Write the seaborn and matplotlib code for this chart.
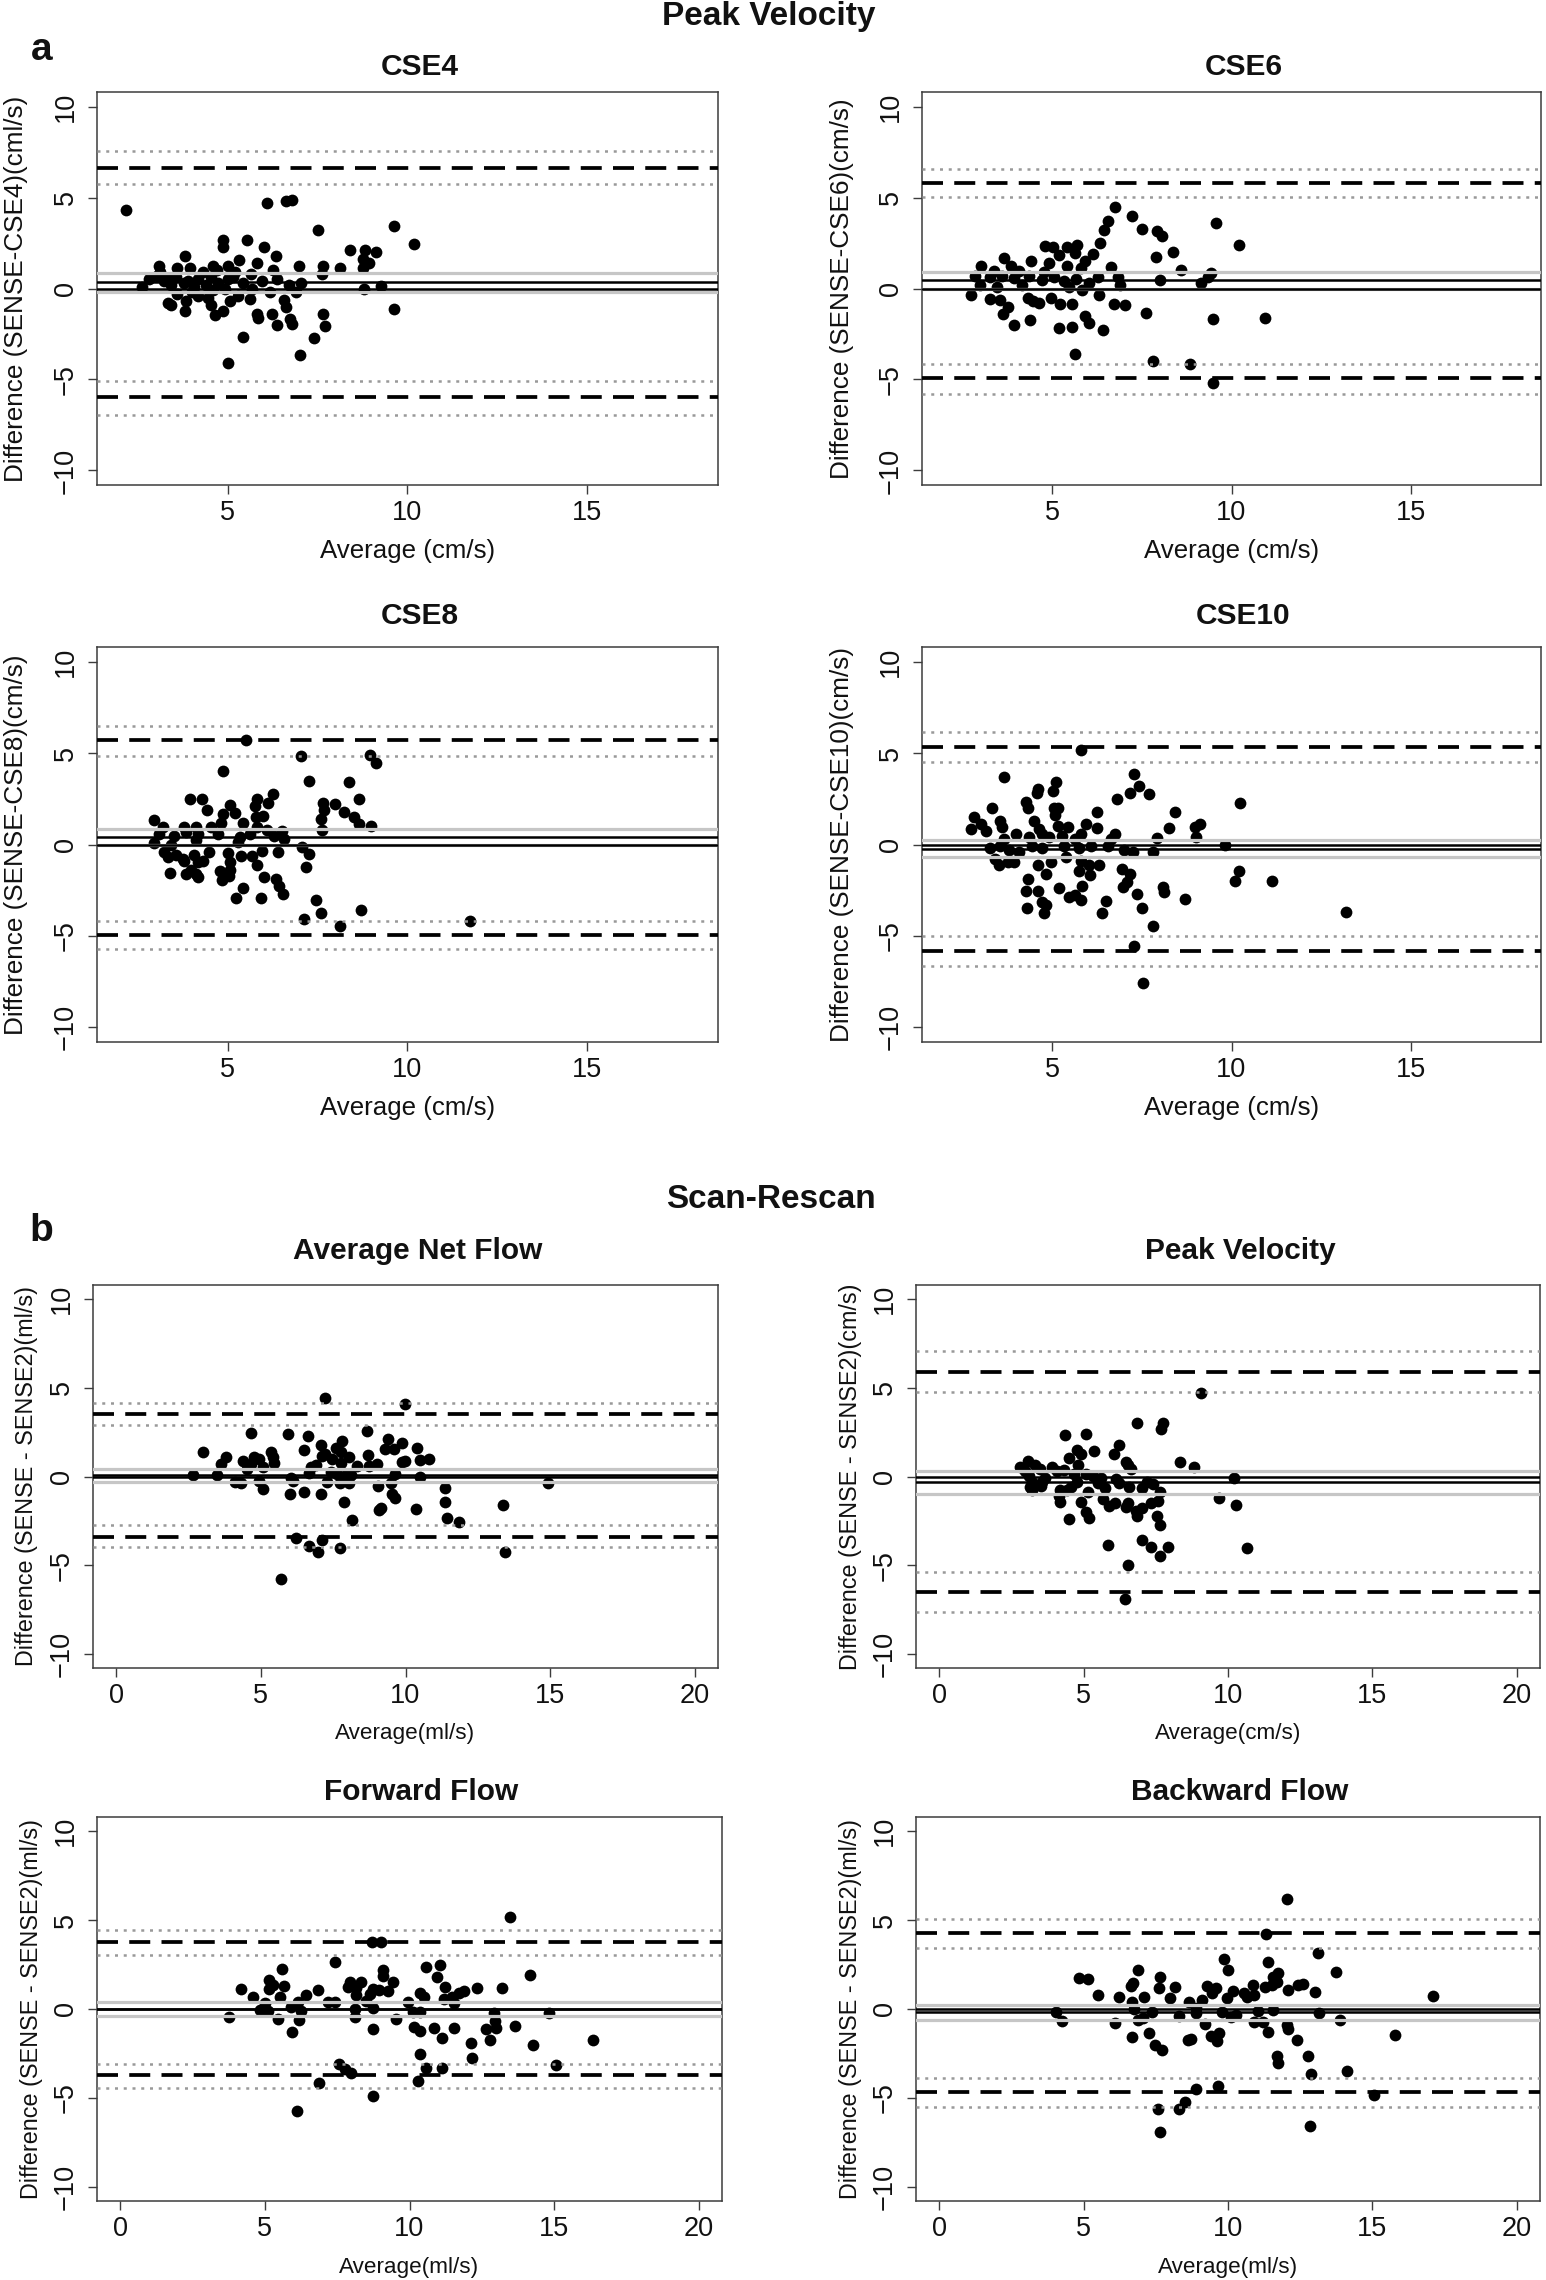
import matplotlib
matplotlib.use("Agg")
import matplotlib.pyplot as plt
import seaborn as sns
import pandas as pd
from matplotlib import font_manager as fm

# ---------------------------------------------------------------- data
# Panel a: Peak Velocity (SENSE vs CSE)
cse4_avg = [2.17, 6.09, 6.63, 6.80, 7.52, 9.63, 10.18, 8.41, 8.81, 9.11,
            4.86, 5.54, 6.02, 6.34, 4.86, 3.81, 5.31, 6.98, 7.66, 8.11,
            8.75, 8.92, 8.75, 3.09, 3.60, 3.95, 4.59, 5.00, 5.82, 6.25,
            5.65, 7.63, 2.62, 2.82, 3.02, 3.23, 3.43, 3.57, 3.77, 4.05,
            4.18, 4.39, 4.52, 4.73, 4.93, 5.14, 5.41, 5.68, 5.95, 6.16,
            6.36, 6.70, 6.91, 7.04, 9.26, 8.79, 3.34, 3.43, 3.84, 3.81,
            4.16, 4.46, 4.52, 4.63, 4.86, 5.07, 5.27, 5.61, 5.82, 5.84,
            6.23, 6.36, 6.57, 6.63, 6.74, 6.80, 7.66, 7.70, 9.63, 5.41,
            7.41, 7.02, 5.00, 3.10, 3.30, 3.90, 4.30, 4.70, 5.20, 3.60,
            4.00, 4.60, 5.00]
cse4_diff = [4.30, 4.71, 4.81, 4.87, 3.20, 3.43, 2.43, 2.13, 2.13, 2.03,
             2.68, 2.64, 2.27, 1.76, 2.27, 1.78, 1.56, 1.26, 1.26, 1.12,
             1.62, 1.42, 1.12, 1.26, 1.12, 1.12, 1.26, 1.26, 1.38, 1.01,
             0.81, 0.81, 0.10, 0.51, 0.71, 0.41, 0.20, 0.61, 0.30, 0.10,
             0.51, 0.20, 0.61, 0.30, 0.00, 0.61, 0.30, 0.00, 0.41, -0.20,
             0.51, 0.20, -0.20, 0.30, 0.14, 0.00, -0.81, -0.91, -0.71, -1.22,
             -0.41, -0.51, -0.91, -1.46, -1.22, -0.71, -0.41, -0.57, -1.38, -1.62,
             -1.38, -1.99, -0.61, -1.01, -1.66, -1.97, -1.38, -2.07, -1.12, -2.68,
             -2.74, -3.65, -4.12, 0.90, 0.60, 0.40, 0.90, 1.00, 0.90, -0.30,
             -0.20, -0.10, 0.50]

cse6_avg = [6.76, 7.22, 6.56, 6.45, 9.56, 7.49, 7.91, 8.07, 6.32, 10.21,
            4.79, 5.01, 5.41, 5.69, 6.14, 8.37, 7.88, 5.62, 5.18, 3.66,
            4.39, 5.90, 4.90, 5.41, 3.84, 3.02, 6.63, 5.80, 8.60, 3.36,
            4.08, 4.77, 9.42, 2.84, 3.25, 3.60, 3.94, 4.35, 4.70, 5.04,
            5.32, 5.66, 6.01, 6.28, 6.83, 8.00, 9.15, 9.34, 2.98, 3.46,
            4.15, 5.45, 6.90, 2.73, 3.25, 3.53, 3.76, 4.31, 4.45, 4.63,
            4.97, 5.21, 5.55, 5.83, 6.31, 6.72, 7.04, 3.62, 5.91, 7.62,
            9.49, 10.94, 3.94, 4.38, 6.01, 5.18, 5.56, 6.42, 5.62, 7.80,
            8.83, 9.48]
cse6_diff = [4.50, 4.00, 3.71, 3.20, 3.59, 3.25, 3.14, 2.90, 2.49, 2.37,
             2.33, 2.27, 2.27, 2.39, 1.87, 1.99, 1.72, 1.93, 1.83, 1.68,
             1.52, 1.52, 1.38, 1.26, 1.26, 1.26, 1.18, 1.12, 1.01, 0.97,
             0.97, 0.91, 0.87, 0.71, 0.61, 0.71, 0.57, 0.71, 0.47, 0.65,
             0.41, 0.51, 0.30, 0.65, 0.61, 0.47, 0.30, 0.61, 0.20, 0.10,
             0.20, 0.10, 0.20, -0.37, -0.57, -0.65, -1.01, -0.51, -0.71, -0.81,
             -0.51, -0.85, -0.87, -0.10, -0.34, -0.87, -0.91, -1.42, -1.52, -1.32,
             -1.66, -1.62, -1.99, -1.72, -1.89, -2.19, -2.13, -2.29, -3.61, -4.00,
             -4.16, -5.17]

cse8_avg = [5.50, 7.04, 8.95, 9.11, 4.86, 7.25, 8.38, 3.94, 4.28, 6.25,
            5.82, 8.64, 6.12, 7.66, 7.97, 5.07, 5.75, 4.43, 7.68, 8.23,
            5.20, 4.86, 5.99, 5.79, 8.51, 2.96, 7.59, 5.41, 8.64, 8.98,
            3.21, 3.77, 4.11, 4.52, 4.80, 5.82, 6.09, 6.50, 7.62, 3.09,
            3.50, 3.84, 4.18, 4.73, 5.34, 5.61, 6.29, 6.57, 2.96, 3.43,
            4.11, 5.27, 7.07, 3.23, 3.57, 3.34, 3.75, 4.05, 4.48, 5.00,
            5.37, 5.68, 5.95, 6.39, 7.25, 4.16, 3.77, 4.32, 5.07, 5.82,
            7.18, 3.39, 3.85, 4.11, 3.98, 4.18, 4.77, 5.07, 4.84, 5.03,
            6.02, 6.34, 6.43, 6.53, 5.41, 5.23, 5.93, 7.45, 7.59, 8.72,
            7.11, 8.13, 11.74]
cse8_diff = [5.73, 4.84, 4.90, 4.47, 4.02, 3.49, 3.43, 2.51, 2.51, 2.75,
             2.51, 2.51, 2.25, 2.25, 2.20, 2.16, 2.12, 1.86, 1.90, 1.80,
             1.73, 1.67, 1.57, 1.53, 1.53, 1.33, 1.37, 1.18, 1.12, 1.02,
             0.98, 0.98, 0.98, 0.94, 1.18, 0.98, 0.78, 0.75, 0.82, 0.55,
             0.49, 0.69, 0.59, 0.55, 0.43, 0.59, 0.49, 0.29, 0.10, 0.00,
             0.24, 0.16, -0.16, -0.39, -0.55, -0.69, -0.78, -0.59, -0.43, -0.49,
             -0.63, -0.63, -0.35, -0.43, -0.53, -0.98, -0.88, -0.88, -0.98, -1.12,
             -1.22, -1.57, -1.61, -1.61, -1.37, -1.80, -1.47, -1.37, -1.96, -1.73,
             -1.80, -1.86, -2.25, -2.71, -2.39, -2.90, -2.90, -3.04, -3.73, -3.59,
             -4.08, -4.47, -4.18]

cse10_avg = [5.80, 3.66, 7.27, 7.41, 7.18, 7.69, 5.11, 5.01, 4.59, 4.56,
             6.79, 10.23, 4.26, 4.33, 3.32, 5.04, 5.15, 8.42, 6.25, 5.07,
             2.81, 3.55, 4.48, 3.01, 5.94, 9.12, 5.15, 5.43, 3.60, 8.25,
             8.97, 2.73, 3.15, 4.63, 6.25, 4.70, 3.98, 5.28, 5.80, 6.76,
             9.01, 7.91, 4.35, 4.90, 3.66, 5.62, 6.63, 3.25, 3.53, 3.80,
             4.08, 4.42, 4.70, 5.32, 5.73, 6.07, 6.56, 7.00, 7.25, 9.83,
             7.80, 3.39, 3.50, 3.77, 3.94, 5.39, 5.80, 4.60, 4.81, 4.97,
             6.01, 6.31, 5.73, 6.05, 6.94, 7.18, 7.08, 6.97, 4.31, 10.10,
             10.21, 11.14, 5.84, 8.10, 8.11, 4.26, 4.59, 5.18, 7.36, 5.45,
             5.62, 5.80, 8.69, 6.49, 4.72, 4.83, 4.28, 4.77, 6.38, 7.49,
             7.80, 13.20, 7.27, 7.52]
cse10_diff = [5.16, 3.69, 3.86, 3.18, 2.84, 2.78, 3.43, 2.94, 3.04, 2.80,
              2.51, 2.29, 2.31, 2.02, 2.00, 2.02, 2.02, 1.80, 1.80, 1.63,
              1.51, 1.31, 1.31, 1.12, 1.14, 1.12, 1.02, 0.98, 0.98, 0.92,
              0.98, 0.84, 0.73, 0.84, 0.88, 0.55, 0.55, 0.49, 0.55, 0.55,
              0.43, 0.35, 0.39, 0.39, 0.29, 0.29, 0.29, -0.20, -0.10, -0.29,
              -0.39, -0.10, -0.20, -0.10, -0.20, -0.10, -0.10, -0.29, -0.39, -0.04,
              -0.43, -0.78, -1.14, -0.98, -0.98, -0.69, -0.88, -1.12, -1.61, -0.98,
              -1.12, -1.12, -1.47, -1.67, -1.33, -1.61, -2.06, -2.35, -1.86, -2.00,
              -1.43, -2.02, -2.25, -2.31, -2.59, -2.55, -2.55, -2.39, -2.69, -2.88,
              -2.78, -3.04, -2.98, -3.08, -3.14, -3.33, -3.49, -3.73, -3.73, -3.49,
              -4.47, -3.69, -5.53, -7.59]

# Panel b: Scan-Rescan (SENSE vs SENSE2)
net_avg = [7.21, 9.97, 8.67, 4.66, 5.94, 6.62, 9.40, 7.81, 9.88, 7.07,
           7.59, 10.39, 9.30, 9.59, 6.48, 7.76, 2.99, 5.34, 7.21, 7.13,
           8.69, 5.41, 4.78, 3.81, 8.06, 10.82, 10.51, 4.92, 9.97, 9.88,
           7.45, 4.40, 5.46, 7.76, 3.64, 4.66, 9.03, 6.90, 8.33, 8.74,
           5.09, 6.73, 4.52, 6.65, 7.41, 7.62, 9.63, 2.67, 3.50, 6.05,
           7.93, 8.10, 10.51, 4.10, 4.32, 4.95, 6.10, 7.30, 7.72, 8.06,
           9.51, 14.93, 5.09, 9.06, 11.38, 6.00, 6.48, 7.07, 9.54, 9.63,
           7.89, 11.38, 13.37, 9.15, 9.08, 10.36, 8.15, 11.45, 11.84, 6.22,
           7.13, 6.65, 7.72, 6.96, 13.45, 5.68]
net_diff = [4.42, 4.07, 2.58, 2.44, 2.38, 2.30, 2.14, 2.03, 1.89, 1.77,
            1.63, 1.63, 1.57, 1.57, 1.49, 1.36, 1.36, 1.36, 1.28, 1.16,
            1.22, 1.12, 1.12, 1.08, 1.08, 0.96, 0.92, 0.96, 0.87, 0.81,
            0.96, 0.85, 0.75, 0.75, 0.71, 0.71, 0.71, 0.67, 0.61, 0.61,
            0.55, 0.51, 0.41, 0.20, 0.26, 0.14, 0.14, 0.10, 0.06, -0.10,
            0.10, 0.06, 0.00, -0.31, -0.35, -0.26, -0.26, -0.31, -0.35, -0.35,
            -0.35, -0.35, -0.71, -0.55, -0.67, -0.96, -0.87, -0.96, -0.96, -1.22,
            -1.42, -1.42, -1.63, -1.77, -1.89, -1.83, -2.44, -2.34, -2.58, -3.46,
            -3.56, -3.93, -4.01, -4.27, -4.27, -5.80]

pv_avg = [9.07, 6.86, 7.74, 7.69, 4.37, 5.07, 6.21, 4.77, 5.36, 4.90,
          6.04, 4.48, 6.47, 8.34, 4.82, 6.55, 8.82, 3.06, 2.81, 3.32,
          3.91, 6.64, 2.98, 3.49, 4.09, 4.34, 4.68, 5.07, 3.10, 3.66,
          5.33, 5.62, 6.13, 10.21, 7.18, 3.23, 3.57, 4.77, 5.50, 6.21,
          7.40, 3.15, 3.54, 4.56, 5.74, 6.59, 7.01, 3.23, 4.17, 4.43,
          5.16, 7.66, 4.14, 4.17, 4.90, 5.67, 9.70, 7.57, 7.35, 6.09,
          5.87, 6.55, 6.47, 10.26, 7.03, 6.81, 5.07, 6.86, 5.19, 4.51,
          7.54, 7.63, 7.03, 5.84, 7.35, 7.91, 10.67, 7.63, 6.55, 6.42]
pv_diff = [4.70, 3.03, 3.01, 2.67, 2.36, 2.40, 1.75, 1.49, 1.41, 1.28,
           1.28, 1.04, 0.84, 0.79, 0.67, 0.63, 0.53, 0.88, 0.53, 0.63,
           0.53, 0.43, 0.33, 0.43, 0.33, 0.39, 0.12, 0.12, 0.02, -0.08,
           0.02, -0.08, -0.14, -0.08, -0.29, -0.29, -0.29, -0.29, -0.35, -0.35,
           -0.43, -0.59, -0.55, -0.59, -0.63, -0.59, -0.63, -0.75, -0.75, -0.75,
           -0.90, -0.90, -1.10, -1.41, -1.41, -1.26, -1.20, -1.36, -1.47, -1.47,
           -1.65, -1.51, -1.71, -1.61, -1.77, -1.96, -1.98, -2.22, -2.32, -2.38,
           -2.22, -2.73, -3.60, -3.89, -3.99, -3.95, -4.01, -4.50, -5.01, -6.90]

fwd_avg = [13.49, 8.70, 9.01, 7.43, 11.05, 10.57, 5.61, 9.07, 14.17, 10.96,
           9.09, 5.13, 7.94, 8.31, 9.43, 5.27, 5.65, 7.88, 8.14, 11.22,
           12.32, 13.20, 4.16, 5.13, 6.83, 8.74, 8.95, 9.26, 11.88, 11.71,
           6.41, 8.14, 4.59, 5.51, 8.62, 10.37, 10.49, 11.47, 8.50, 7.17,
           7.43, 11.19, 11.55, 9.94, 5.01, 6.15, 5.90, 8.75, 4.84, 8.11,
           10.11, 10.37, 12.91, 14.82, 5.10, 6.24, 3.77, 5.44, 8.11, 9.52,
           6.19, 12.95, 13.66, 10.14, 10.86, 11.54, 12.64, 12.98, 8.75, 10.35,
           5.95, 11.11, 16.35, 12.78, 12.13, 14.26, 10.37, 12.15, 7.56, 15.07,
           7.76, 7.99, 10.57, 11.13, 10.31, 6.86, 8.75, 6.10]
fwd_diff = [5.20, 3.78, 3.78, 2.65, 2.45, 2.35, 2.27, 2.22, 1.92, 1.82,
            1.84, 1.61, 1.51, 1.53, 1.51, 1.37, 1.27, 1.22, 1.16, 1.22,
            1.16, 1.20, 1.10, 1.12, 1.06, 1.10, 1.06, 1.02, 1.02, 0.90,
            0.80, 0.76, 0.65, 0.65, 0.86, 0.90, 0.65, 0.69, 0.45, 0.41,
            0.41, 0.55, 0.35, 0.41, 0.35, 0.39, 0.14, 0.04, -0.06, -0.02,
            -0.16, -0.16, -0.20, -0.20, -0.12, -0.12, -0.47, -0.57, -0.47, -0.57,
            -0.61, -0.67, -0.94, -1.04, -1.08, -1.08, -1.12, -1.08, -1.14, -1.24,
            -1.29, -1.63, -1.73, -1.76, -1.90, -2.00, -2.51, -2.76, -3.08, -3.16,
            -3.39, -3.59, -3.33, -3.33, -4.04, -4.18, -4.90, -5.71]

bwd_avg = [12.05, 11.32, 13.11, 9.87, 11.40, 6.89, 10.00, 13.75, 11.74, 4.85,
           5.14, 7.66, 11.57, 11.69, 11.52, 6.72, 6.64, 12.43, 12.60, 9.28,
           9.57, 10.86, 11.29, 8.17, 7.61, 12.09, 10.16, 9.45, 13.02, 10.55,
           10.67, 10.89, 17.11, 5.50, 6.21, 7.10, 8.00, 9.96, 9.11, 6.69,
           8.65, 8.90, 6.76, 11.57, 4.03, 7.37, 11.03, 9.79, 10.26, 13.14,
           8.90, 10.10, 8.29, 7.06, 6.89, 4.26, 10.89, 11.20, 13.87, 6.09,
           9.19, 12.03, 12.09, 7.27, 11.40, 9.70, 9.41, 15.78, 6.69, 9.62,
           8.63, 8.73, 12.39, 7.46, 7.71, 11.71, 12.77, 11.74, 14.13, 12.89,
           8.89, 9.67, 15.06, 8.51, 7.57, 8.29, 12.85, 7.66]
bwd_diff = [6.16, 4.22, 3.14, 2.80, 2.63, 2.22, 2.22, 2.08, 2.04, 1.73,
            1.67, 1.78, 1.78, 1.51, 1.37, 1.47, 1.31, 1.37, 1.43, 1.27,
            1.16, 1.33, 1.22, 1.22, 1.20, 1.06, 1.02, 0.90, 0.96, 0.90,
            0.65, 0.76, 0.71, 0.76, 0.65, 0.65, 0.61, 0.61, 0.49, 0.39,
            0.39, 0.08, 0.00, -0.06, -0.16, -0.16, -0.12, -0.16, -0.31, -0.20,
            -0.20, -0.43, -0.41, -0.51, -0.61, -0.67, -0.71, -0.71, -0.63, -0.78,
            -0.82, -0.88, -1.12, -1.35, -1.29, -1.35, -1.53, -1.49, -1.55, -1.80,
            -1.73, -1.69, -1.76, -2.00, -2.31, -2.67, -2.67, -3.06, -3.49, -3.63,
            -4.49, -4.35, -4.82, -5.22, -5.63, -5.63, -6.59, -6.90]

# Bland-Altman reference lines: mean bias, 95% CI of bias,
# limits of agreement, 95% CI of each limit
cse4_bias, cse4_bias_ci, cse4_loa, cse4_loa_ci = 0.34, [-0.18, 0.85], [-5.94, 6.65], [-6.94, -5.07, 5.72, 7.55]
cse6_bias, cse6_bias_ci, cse6_loa, cse6_loa_ci = 0.45, [0.00, 0.91], [-4.93, 5.82], [-5.78, -4.16, 5.01, 6.59]
cse8_bias, cse8_bias_ci, cse8_loa, cse8_loa_ci = 0.39, [-0.05, 0.84], [-4.94, 5.69], [-5.73, -4.16, 4.86, 6.47]
cse10_bias, cse10_bias_ci, cse10_loa, cse10_loa_ci = -0.24, [-0.69, 0.24], [-5.82, 5.35], [-6.63, -5.00, 4.49, 6.14]
net_bias, net_bias_ci, net_loa, net_loa_ci = 0.06, [-0.30, 0.45], [-3.40, 3.52], [-4.00, -2.75, 2.89, 4.17]
pv_bias, pv_bias_ci, pv_loa, pv_loa_ci = -0.29, [-0.96, 0.33], [-6.50, 5.89], [-7.62, -5.38, 4.75, 7.05]
fwd_bias, fwd_bias_ci, fwd_loa, fwd_loa_ci = 0.01, [-0.37, 0.39], [-3.73, 3.78], [-4.45, -3.08, 3.04, 4.43]
bwd_bias, bwd_bias_ci, bwd_loa, bwd_loa_ci = -0.19, [-0.63, 0.24], [-4.69, 4.29], [-5.53, -3.90, 3.45, 5.08]

titles = ["CSE4", "CSE6", "CSE8", "CSE10",
          "Average Net Flow", "Peak Velocity", "Forward Flow", "Backward Flow"]
ylabels = ["Difference (SENSE-CSE4)(cml/s)", "Difference (SENSE-CSE6)(cm/s)",
           "Difference (SENSE-CSE8)(cm/s)", "Difference (SENSE-CSE10)(cm/s)",
           "Difference (SENSE - SENSE2)(ml/s)", "Difference (SENSE - SENSE2)(cm/s)",
           "Difference (SENSE - SENSE2)(ml/s)", "Difference (SENSE - SENSE2)(ml/s)"]
xlabels = ["Average (cm/s)"] * 4 + ["Average(ml/s)", "Average(cm/s)",
                                    "Average(ml/s)", "Average(ml/s)"]
yticks_all = [-10, -5, 0, 5, 10]
xticks_a = [5, 10, 15]
xticks_b = [0, 5, 10, 15, 20]

# ---------------------------------------------------------------- style
sns.set_theme(style="white")
names = {f.name for f in fm.fontManager.ttflist}
NARROW = "Liberation Sans Narrow" in names
REG = "Liberation Sans" if "Liberation Sans" in names else "DejaVu Sans"
TXT = "Liberation Sans Narrow" if NARROW else REG
plt.rcParams["font.family"] = [TXT, "DejaVu Sans"]

if NARROW:
    fs_tick, fs_ylab_a, fs_ylab_b, fs_xlab_a, fs_xlab_b = 21, 22, 20, 22, 19.5
else:
    fs_tick, fs_ylab_a, fs_ylab_b, fs_xlab_a, fs_xlab_b = 19.5, 18.8, 16.8, 18.6, 16.2
fs_title, fs_sup, fs_letter = 21.5, 24, 28

W, H = 1546, 2280
fig = plt.figure(figsize=(W / 100, H / 100), dpi=100, facecolor="white")

# axes boxes in pixels: left, top, right, bottom
boxes = [(97, 92, 718, 485), (922, 92, 1541, 485),
         (97, 647, 718, 1042), (922, 647, 1541, 1042),
         (93, 1285, 718, 1668), (916, 1285, 1540, 1668),
         (97, 1817, 722, 2201), (916, 1817, 1540, 2201)]
title_y = [67, 67, 616, 616, 1251, 1251, 1792, 1792]
ylab_x = [16, 842, 16, 842, 27, 850, 32, 850]

panels = [
    (cse4_avg, cse4_diff, cse4_bias, cse4_bias_ci, cse4_loa, cse4_loa_ci),
    (cse6_avg, cse6_diff, cse6_bias, cse6_bias_ci, cse6_loa, cse6_loa_ci),
    (cse8_avg, cse8_diff, cse8_bias, cse8_bias_ci, cse8_loa, cse8_loa_ci),
    (cse10_avg, cse10_diff, cse10_bias, cse10_bias_ci, cse10_loa, cse10_loa_ci),
    (net_avg, net_diff, net_bias, net_bias_ci, net_loa, net_loa_ci),
    (pv_avg, pv_diff, pv_bias, pv_bias_ci, pv_loa, pv_loa_ci),
    (fwd_avg, fwd_diff, fwd_bias, fwd_bias_ci, fwd_loa, fwd_loa_ci),
    (bwd_avg, bwd_diff, bwd_bias, bwd_bias_ci, bwd_loa, bwd_loa_ci),
]

TICKLEN = 6.8   # pt
for i, (avg, diff, bias, bias_ci, loa, loa_ci) in enumerate(panels):
    l, t, r, b = boxes[i]
    ax = fig.add_axes([l / W, 1 - b / H, (r - l) / W, (b - t) / H])
    df = pd.DataFrame({"avg": avg, "diff": diff})
    sns.scatterplot(data=df, x="avg", y="diff", ax=ax, color="black", s=72,
                    linewidth=0, zorder=2, legend=False)
    # reference lines (drawn on top of points, as in the original)
    for v in bias_ci:
        ax.axhline(v, color="#c6c6c6", lw=2.3, zorder=3)
    ax.axhline(0, color="black", lw=1.8, zorder=4)
    ax.axhline(bias, color="black", lw=1.8, zorder=4)
    for v in loa:
        ax.axhline(v, color="black", lw=2.7, dashes=(5.6, 3.0), zorder=4)
    for v in loa_ci:
        ax.axhline(v, color="#999999", lw=1.8, dashes=(1.2, 2.3), zorder=4)

    if i < 4:
        ax.set_xlim(1.36, 18.64)
        ax.set_xticks(xticks_a)
        fs_y, fs_x = fs_ylab_a, fs_xlab_a
    else:
        ax.set_xlim(-0.8, 20.8)
        ax.set_xticks(xticks_b)
        fs_y, fs_x = fs_ylab_b, fs_xlab_b
    ax.set_ylim(-10.8, 10.8)
    ax.set_yticks(yticks_all)
    ax.set_xlabel("")
    ax.set_ylabel("")
    for sp in ax.spines.values():
        sp.set_color("#3c3c3c")
        sp.set_linewidth(1.1)
    ax.tick_params(axis="both", direction="out", length=TICKLEN, width=1.0,
                   color="#3c3c3c", labelsize=fs_tick, labelcolor="#111111",
                   left=True, bottom=True)
    ax.tick_params(axis="y", pad=15.5)
    ax.tick_params(axis="x", pad=13.7)
    for lab in ax.get_yticklabels():
        lab.set_rotation(90)
        lab.set_ha("center")
        lab.set_va("center")
    for lab in ax.get_xticklabels():
        lab.set_va("center")

    cx = (l + r) / 2
    fig.text((cx + 12) / W, 1 - title_y[i] / H, titles[i], ha="center",
             va="center", fontsize=fs_title, fontweight="bold",
             family=[REG, "DejaVu Sans"], color="#111111")
    fig.text(cx / W, 1 - (b + 66) / H, xlabels[i], ha="center", va="center",
             fontsize=fs_x, color="#111111")
    fig.text(ylab_x[i] / W, 1 - ((t + b) / 2) / H, ylabels[i], ha="center",
             va="center", rotation=90, fontsize=fs_y, color="#111111")

# section headings
fig.text(769 / W, 1 - 17 / H, "Peak Velocity", ha="center", va="center",
         fontsize=fs_sup, fontweight="bold", family=[REG, "DejaVu Sans"],
         color="#111111")
fig.text(771 / W, 1 - 1200 / H, "Scan-Rescan", ha="center", va="center",
         fontsize=fs_sup, fontweight="bold", family=[REG, "DejaVu Sans"],
         color="#111111")
fig.text(42 / W, 1 - 50 / H, "a", ha="center", va="center",
         fontsize=fs_letter, fontweight="bold", family=[REG, "DejaVu Sans"],
         color="#111111")
fig.text(41 / W, 1 - 1231 / H, "b", ha="center", va="center",
         fontsize=fs_letter, fontweight="bold", family=[REG, "DejaVu Sans"],
         color="#111111")

fig.savefig("out.png", dpi=100, facecolor="white")
